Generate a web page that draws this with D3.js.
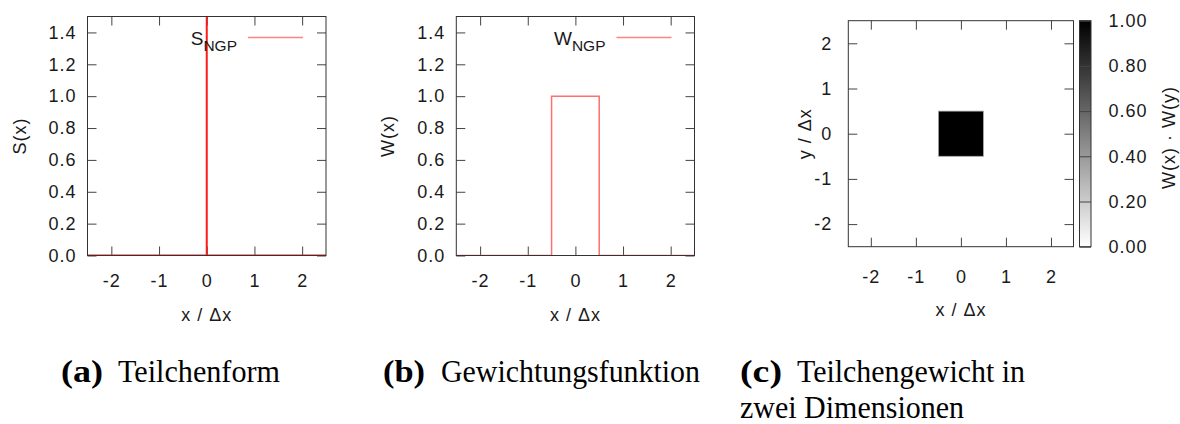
<!DOCTYPE html>
<html lang="de">
  <head>
    <meta charset="utf-8">
    <title>NGP Teilchenform</title>
    <style>
    body {margin: 0; background: #fff;}
    svg text {font-family: "Liberation Sans", Arial, sans-serif; fill: #1a1a1a; letter-spacing: 1px;}
    .tick line {stroke: #444;}
    .domain {display: none;}
    .cap text {font-family: "Liberation Serif", "Times New Roman", serif; fill: #000; letter-spacing: 0;}
    </style>
  </head>
  <body>
    <div id="fig"></div>

    <script src="https://d3js.org/d3.v7.min.js"></script>
    <script>
      // tick values
      var xTicks = [-2, -1, 0, 1, 2];
      var yTicks = [0, 0.2, 0.4, 0.6, 0.8, 1.0, 1.2, 1.4];
      var yTicks2d = [-2, -1, 0, 1, 2];
      var cbTicks = [0, 0.2, 0.4, 0.6, 0.8, 1.0];

      // (a) particle shape S(x): delta peak at x = 0 (runs off the top)
      var shapeX = [-2.5, 0, 0, 0, 2.5];
      var shapeY = [0, 0, 1.5, 0, 0];

      // (b) NGP weight function W(x)
      var weightX = [-2.5, -0.5, -0.5, 0.5, 0.5, 2.5];
      var weightY = [0, 0, 1, 1, 0, 0];

      // (c) W(x)*W(y) on the plane, non-zero cells only
      var cellX0 = [-0.5], cellX1 = [0.5];
      var cellY0 = [-0.5], cellY1 = [0.5];
      var cellVal = [1];

      // captions
      var capLabels = ["(a)", "(b)", "(c)"];
      var capTexts = [["Teilchenform"], ["Gewichtungsfunktion"], ["Teilchengewicht in", "zwei Dimensionen"]];

      var svg = d3.select("#fig").append("svg")
        .attr("width", 1180)
        .attr("height", 424);

      // gnuplot writes a plain hyphen for negatives
      var fmtInt = function(d) { return String(d); };
      var fmt1 = function(d) { return d.toFixed(1); };
      var fmt2 = function(d) { return d.toFixed(2); };
      var tickLen = 9;

      function frame(x, y) {
        svg.append("rect")
          .attr("x", x.range()[0]).attr("y", y.range()[1])
          .attr("width", x.range()[1] - x.range()[0])
          .attr("height", y.range()[0] - y.range()[1])
          .attr("fill", "none").attr("stroke", "#333").attr("stroke-width", 1);
      }

      function ticksAll(x, y, yt, yfmt, padX, padY) {
        svg.append("g").attr("transform", "translate(0," + y.range()[0] + ")")
          .call(d3.axisBottom(x).tickValues(xTicks).tickSizeInner(-tickLen).tickSizeOuter(0).tickPadding(padX).tickFormat(fmtInt))
          .selectAll("text").style("font-size", "18px").style("fill", "#1a1a1a");
        svg.append("g").attr("transform", "translate(0," + y.range()[1] + ")")
          .call(d3.axisTop(x).tickValues(xTicks).tickSizeInner(-tickLen).tickSizeOuter(0).tickFormat(""));
        svg.append("g").attr("transform", "translate(" + x.range()[0] + ",0)")
          .call(d3.axisLeft(y).tickValues(yt).tickSizeInner(-tickLen).tickSizeOuter(0).tickPadding(padY).tickFormat(yfmt))
          .selectAll("text").style("font-size", "18px").style("fill", "#1a1a1a");
        svg.append("g").attr("transform", "translate(" + x.range()[1] + ",0)")
          .call(d3.axisRight(y).tickValues(yt).tickSizeInner(-tickLen).tickSizeOuter(0).tickFormat(""));
        svg.selectAll("g").attr("font-family", null).attr("font-size", null);
      }

      function linePanel(left, right, xs, ys, ylab, legMain, color, sw) {
        var x = d3.scaleLinear().domain([-2.5, 2.5]).range([left, right]);
        var y = d3.scaleLinear().domain([0, 1.5]).range([255.5, 16.5]);
        var id = "clip" + Math.round(left);
        svg.append("clipPath").attr("id", id).append("rect")
          .attr("x", left).attr("y", 16.5).attr("width", right - left).attr("height", 239);

        ticksAll(x, y, yTicks, fmt1, 18.5, 11);

        var pts = xs.map(function(v, i) { return [v, ys[i]]; });
        svg.append("path")
          .datum(pts)
          .attr("clip-path", "url(#" + id + ")")
          .attr("fill", "none")
          .attr("stroke", color)
          .attr("stroke-width", sw)
          .attr("d", d3.line().x(function(d) { return x(d[0]); }).y(function(d) { return y(d[1]); }));

        frame(x, y);

        // key
        var lx1 = right - 23, lx0 = lx1 - 55;
        svg.append("line").attr("x1", lx0).attr("x2", lx1).attr("y1", 37.5).attr("y2", 37.5)
          .attr("stroke", "#ff8585").attr("stroke-width", 1.6);
        var t = svg.append("text").attr("x", lx0 - 11).attr("y", 44.5).attr("text-anchor", "end")
          .style("font-size", "19px").style("letter-spacing", "0");
        t.append("tspan").text(legMain);
        t.append("tspan").attr("dy", 6).style("font-size", "15.5px").text("NGP");

        svg.append("text")
          .attr("transform", "translate(" + (left - 62) + "," + ((y.range()[0] + y.range()[1]) / 2) + ") rotate(-90)")
          .attr("text-anchor", "middle").style("font-size", "18px").text(ylab);
        svg.append("text")
          .attr("x", (left + right) / 2).attr("y", 321)
          .attr("text-anchor", "middle").style("font-size", "18px").text("x / \u0394x");
      }

      linePanel(87.5, 326, shapeX, shapeY, "S(x)", "S", "#ff1a1a", 2);
      linePanel(456.3, 694.5, weightX, weightY, "W(x)", "W", "#ff6f6f", 1.5);

      // (c) map
      var xc = d3.scaleLinear().domain([-2.5, 2.5]).range([848.3, 1073.5]);
      var yc = d3.scaleLinear().domain([-2.5, 2.5]).range([246.7, 20.7]);
      var col = d3.scaleLinear().domain([0, 1]).range(["#ffffff", "#000000"]);

      svg.selectAll("rect.cell")
        .data(cellVal)
        .enter().append("rect")
          .attr("class", "cell")
          .attr("x", function(d, i) { return xc(cellX0[i]); })
          .attr("y", function(d, i) { return yc(cellY1[i]); })
          .attr("width", function(d, i) { return xc(cellX1[i]) - xc(cellX0[i]); })
          .attr("height", function(d, i) { return yc(cellY0[i]) - yc(cellY1[i]); })
          .attr("fill", function(d) { return col(d); })
          .attr("stroke", "#aaa").attr("stroke-width", 0.8);

      ticksAll(xc, yc, yTicks2d, fmtInt, 23.5, 16);
      frame(xc, yc);

      svg.append("text")
        .attr("transform", "translate(" + 811 + "," + 133.7 + ") rotate(-90)")
        .attr("text-anchor", "middle").style("font-size", "18px").text("y / \u0394x");
      svg.append("text")
        .attr("x", (xc.range()[0] + xc.range()[1]) / 2).attr("y", 316)
        .attr("text-anchor", "middle").style("font-size", "18px").text("x / \u0394x");

      // colour box
      var cb = d3.scaleLinear().domain([0, 1]).range([246.7, 20.7]);
      var grad = svg.append("defs").append("linearGradient")
        .attr("id", "cbgrad").attr("x1", 0).attr("y1", 1).attr("x2", 0).attr("y2", 0);
      grad.selectAll("stop").data(cbTicks).enter().append("stop")
        .attr("offset", function(d) { return d; })
        .attr("stop-color", function(d) { return col(d); });
      svg.append("rect")
        .attr("x", 1079.5).attr("y", cb(1))
        .attr("width", 11.5).attr("height", cb(0) - cb(1))
        .attr("fill", "url(#cbgrad)");
      svg.append("g").attr("transform", "translate(1091,0)")
        .call(d3.axisRight(cb).tickValues(cbTicks).tickSizeInner(-11.5).tickSizeOuter(0).tickPadding(17.5).tickFormat(fmt2))
        .selectAll("text").style("font-size", "18px").style("fill", "#1a1a1a");
      svg.selectAll("g").attr("font-family", null).attr("font-size", null);
      svg.append("rect")
        .attr("x", 1079.5).attr("y", cb(1))
        .attr("width", 11.5).attr("height", cb(0) - cb(1))
        .attr("fill", "none").attr("stroke", "#333");
      svg.append("text")
        .attr("transform", "translate(" + 1175 + "," + 137.5 + ") rotate(-90)")
        .attr("text-anchor", "middle").style("font-size", "18px").text("W(x) \u00b7 W(y)");

      // captions
      var capX = [61, 383, 740];
      var bodyX = [118, 441, 797];
      var bodyW = [[162], [259], [228, 224]];
      var cap = svg.append("g").attr("class", "cap");
      capLabels.forEach(function(lab, i) {
        cap.append("text")
          .attr("x", capX[i]).attr("y", 382)
          .attr("textLength", 42).attr("lengthAdjust", "spacingAndGlyphs")
          .style("font-size", "31px").style("font-weight", "bold").text(lab);
        capTexts[i].forEach(function(line, j) {
          cap.append("text")
            .attr("x", j == 0 ? bodyX[i] : capX[i]).attr("y", 382 + j * 36)
            .attr("textLength", bodyW[i][j]).attr("lengthAdjust", "spacingAndGlyphs")
            .style("font-size", "31px").text(line);
        });
      });
    </script>
  </body>
</html>
